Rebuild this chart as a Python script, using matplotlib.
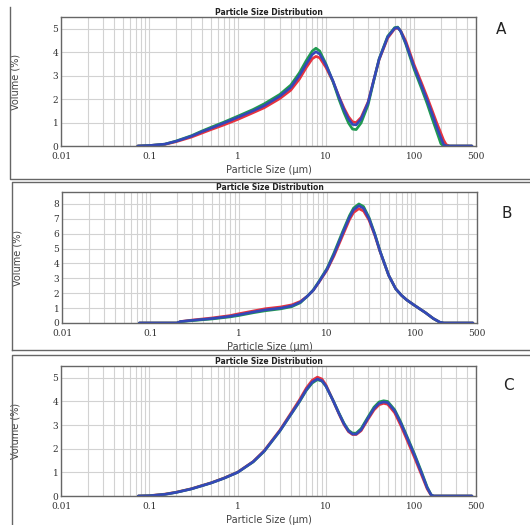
# Particle size distribution, three panels A/B/C

import matplotlib.pyplot as plt
from matplotlib.lines import Line2D
from matplotlib.ticker import LogLocator, FixedLocator, FixedFormatter, NullFormatter

# ---------- data ----------
a_size = [0.074, 0.1, 0.15, 0.2, 0.3, 0.4, 0.5, 0.7, 1, 1.5, 2, 3, 4, 5, 6, 7, 7.7,
          8.5, 10, 12, 14, 16, 18, 20, 22, 25, 30, 35, 40, 50, 60, 65, 70, 80, 100,
          120, 140, 160, 180, 200, 215, 230, 250, 450]
a_red = [0, 0.02, 0.07, 0.18, 0.38, 0.56, 0.7, 0.9, 1.13, 1.42, 1.63, 2.02, 2.38, 2.85,
         3.35, 3.72, 3.82, 3.76, 3.35, 2.75, 2.12, 1.62, 1.25, 1.03, 1.0, 1.22, 1.88,
         2.85, 3.68, 4.6, 5.0, 5.03, 4.92, 4.48, 3.45, 2.72, 2.08, 1.5, 0.98, 0.55, 0.25,
         0.06, 0, 0]
a_green = [0, 0.02, 0.08, 0.21, 0.44, 0.65, 0.8, 1.02, 1.27, 1.56, 1.8, 2.2, 2.6, 3.12,
           3.65, 4.05, 4.17, 4.05, 3.5, 2.75, 2.0, 1.42, 0.98, 0.72, 0.7, 0.98, 1.75,
           2.82, 3.72, 4.68, 5.05, 5.07, 4.9, 4.35, 3.25, 2.48, 1.8, 1.15, 0.6, 0.1,
           0, 0, 0, 0]
a_blue = [0, 0.02, 0.08, 0.2, 0.42, 0.62, 0.76, 0.98, 1.22, 1.5, 1.72, 2.12, 2.5, 3.0,
          3.5, 3.9, 4.02, 3.92, 3.45, 2.78, 2.1, 1.55, 1.15, 0.92, 0.9, 1.15, 1.85,
          2.85, 3.7, 4.65, 5.02, 5.05, 4.9, 4.4, 3.35, 2.6, 1.95, 1.35, 0.8, 0.35, 0.06,
          0, 0, 0]

b_size = [0.075, 0.2, 0.22, 0.3, 0.5, 0.8, 1, 1.5, 2, 3, 4, 5, 6, 7, 8, 10, 12, 15,
          18, 20, 23, 26, 30, 35, 40, 50, 60, 70, 80, 100, 130, 160, 190, 210, 450]
b_red = [0, 0, 0.1, 0.2, 0.34, 0.5, 0.62, 0.82, 0.96, 1.08, 1.22, 1.45, 1.8, 2.2, 2.68,
         3.55, 4.5, 5.85, 6.95, 7.42, 7.68, 7.52, 6.9, 5.85, 4.78, 3.2, 2.3, 1.85, 1.55,
         1.15, 0.7, 0.3, 0.05, 0, 0]
b_green = [0, 0, 0.09, 0.16, 0.27, 0.41, 0.5, 0.7, 0.82, 0.95, 1.1, 1.36, 1.8, 2.22,
           2.74, 3.66, 4.7, 6.12, 7.22, 7.72, 8.0, 7.82, 7.08, 5.95, 4.82, 3.2, 2.3,
           1.85, 1.55, 1.15, 0.7, 0.3, 0.05, 0, 0]
b_blue = [0, 0, 0.1, 0.18, 0.3, 0.45, 0.55, 0.75, 0.88, 1.0, 1.15, 1.4, 1.8, 2.2, 2.7,
          3.6, 4.6, 6.0, 7.1, 7.6, 7.88, 7.7, 7.0, 5.9, 4.8, 3.2, 2.3, 1.85, 1.55, 1.15,
          0.7, 0.3, 0.05, 0, 0]

c_size = [0.075, 0.1, 0.15, 0.2, 0.3, 0.5, 0.7, 1, 1.5, 2, 3, 4, 5, 6, 7, 8, 9, 10,
          12, 14, 16, 18, 20, 22, 25, 30, 35, 40, 45, 50, 60, 70, 80, 100, 120, 140,
          155, 165, 450]
c_red = [0, 0.015, 0.08, 0.16, 0.31, 0.56, 0.76, 1.01, 1.46, 1.92, 2.78, 3.5, 4.06,
         4.57, 4.9, 5.03, 4.95, 4.7, 4.05, 3.48, 3.02, 2.72, 2.6, 2.6, 2.76, 3.25, 3.64,
         3.86, 3.92, 3.88, 3.52, 3.0, 2.5, 1.65, 0.92, 0.3, 0.03, 0, 0]
c_green = [0, 0.01, 0.07, 0.15, 0.3, 0.55, 0.75, 1.0, 1.44, 1.89, 2.74, 3.44, 3.98,
           4.47, 4.78, 4.92, 4.86, 4.64, 4.06, 3.52, 3.08, 2.78, 2.66, 2.66, 2.85, 3.35,
           3.76, 3.98, 4.03, 4.0, 3.65, 3.15, 2.65, 1.8, 1.05, 0.38, 0.06, 0, 0]
c_blue = [0, 0.01, 0.07, 0.15, 0.3, 0.55, 0.75, 1.0, 1.45, 1.9, 2.75, 3.45, 4.0, 4.5,
          4.82, 4.95, 4.88, 4.65, 4.05, 3.5, 3.05, 2.75, 2.62, 2.62, 2.8, 3.3, 3.7, 3.92,
          3.98, 3.95, 3.6, 3.1, 2.6, 1.75, 1.0, 0.35, 0.05, 0, 0]

x_ticks = [0.01, 0.1, 1, 10, 100, 500]
x_tick_labels = ['0.01', '0.1', '1', '10', '100', '500']

panels = [
    ('A', a_size, a_red, a_green, a_blue, 5.5, 6),
    ('B', b_size, b_red, b_green, b_blue, 8.8, 9),
    ('C', c_size, c_red, c_green, c_blue, 5.5, 6),
]

# ---------- 画布 ----------
W, H = 530, 525
fig = plt.figure(figsize=(W / 100, H / 100), dpi=100)

# axes boxes in pixels: left, top, right, bottom
boxes = [(61, 17, 476, 146), (62, 192, 477, 323), (61, 366, 476, 496)]
letter_pos = [(501, 30), (507, 214), (508, 385)]

col_red, col_green, col_blue = '#e8323e', '#1f9a50', '#3448b8'
grid_c = '#d2d2d2'
serif = 'DejaVu Serif'

for (name, size, red, green, blue, ytop, ny), (l, t, r, b), (lx, ly) in zip(panels, boxes, letter_pos):
    ax = fig.add_axes([l / W, 1 - b / H, (r - l) / W, (b - t) / H])
    ax.set_xscale('log')
    ax.set_xlim(0.01, 500)
    ax.set_ylim(0, ytop)

    ax.plot(size, red, color=col_red, lw=1.9, solid_capstyle='round')
    ax.plot(size, green, color=col_green, lw=1.9, solid_capstyle='round')
    ax.plot(size, blue, color=col_blue, lw=1.9, solid_capstyle='round')

    # grid: major + minor on x, integers on y
    ax.xaxis.set_major_locator(FixedLocator(x_ticks))
    ax.xaxis.set_major_formatter(FixedFormatter(x_tick_labels))
    ax.xaxis.set_minor_locator(LogLocator(base=10, subs=range(2, 10), numticks=20))
    ax.xaxis.set_minor_formatter(NullFormatter())
    ax.set_yticks(range(ny))
    ax.grid(True, which='both', axis='x', color=grid_c, lw=0.8)
    ax.grid(True, which='major', axis='y', color=grid_c, lw=0.8)
    ax.set_axisbelow(True)
    ax.tick_params(which='both', length=0, labelsize=6.5, colors='#333333', pad=2)
    ax.tick_params(axis='x', pad=4)
    for lab in ax.get_xticklabels() + ax.get_yticklabels():
        lab.set_family(serif)
    for sp in ax.spines.values():
        sp.set_color('#666666')
        sp.set_linewidth(1.0)

    ax.set_title('Particle Size Distribution', fontsize=5.5, weight='bold',
                 color='#222222', pad=0.5)
    ax.set_xlabel('Particle Size (μm)', fontsize=7, color='#444444')
    ax.xaxis.set_label_coords(0.5, -19 / (b - t))
    ax.set_ylabel('Volume (%)', fontsize=7, color='#444444')
    ax.yaxis.set_label_coords(-40 / (r - l), 0.5)

    fig.text(lx / W, 1 - ly / H, name, fontsize=11, ha='center', va='center',
             color='#222222')

# ---------- 外框线 ----------
def fl(xs, ys):
    fig.add_artist(Line2D([x / W for x in xs], [1 - y / H for y in ys],
                          color='#666666', lw=1.0))

fl([10, 10, 530], [7, 179, 179])
fl([12, 12, 530], [350, 182, 182])
fl([12, 530], [350, 350])
fl([12, 12, 530], [525, 355, 355])

plt.savefig('out.png', dpi=100)
plt.close()
